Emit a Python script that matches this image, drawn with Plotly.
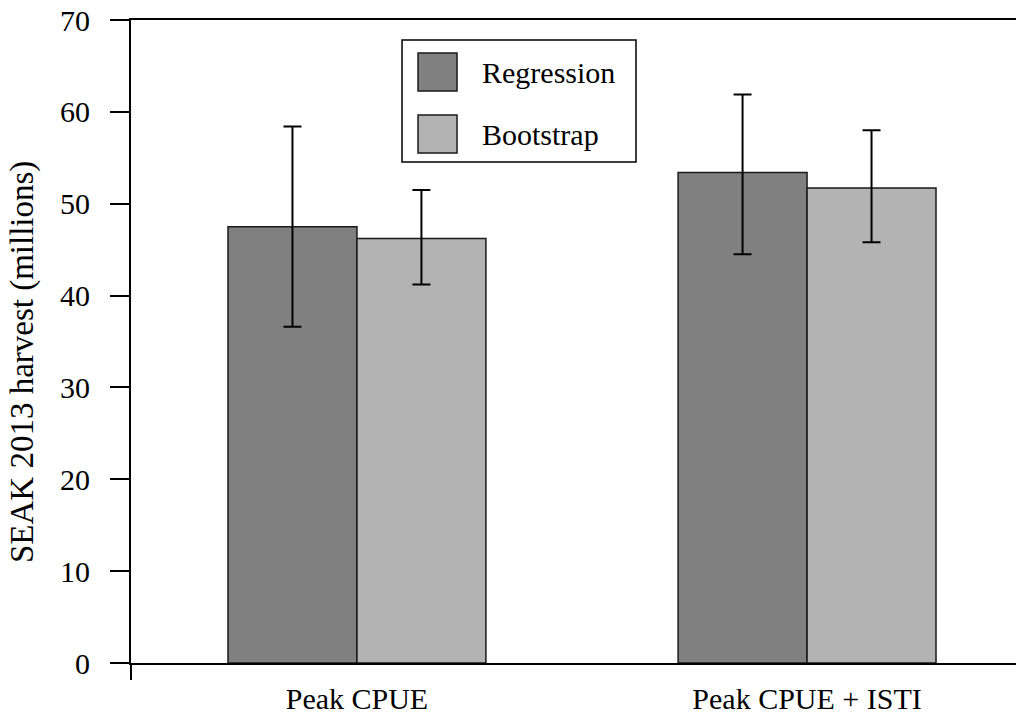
import plotly.graph_objects as go

categories = ["Peak CPUE", "Peak CPUE + ISTI"]
regression = [47.5, 53.4]
regression_lo = [36.6, 44.5]
regression_hi = [58.4, 61.9]
bootstrap = [46.2, 51.7]
bootstrap_lo = [41.2, 45.8]
bootstrap_hi = [51.5, 58.0]
y_ticks = [0, 10, 20, 30, 40, 50, 60, 70]
y_title = "SEAK 2013 harvest (millions)"

FONT = "Times New Roman, Liberation Serif, Times, serif"
FS = 30

def err(vals, lo, hi):
    return dict(type="data", symmetric=False,
                array=[h - v for v, h in zip(vals, hi)],
                arrayminus=[v - l for v, l in zip(vals, lo)],
                color="black", thickness=2, width=9)

fig = go.Figure()
fig.add_trace(go.Bar(x=categories, y=regression, name="Regression",
                     marker=dict(color="#808080", line=dict(color="#1a1a1a", width=1.5)),
                     error_y=err(regression, regression_lo, regression_hi),
                     showlegend=False))
fig.add_trace(go.Bar(x=categories, y=bootstrap, name="Bootstrap",
                     marker=dict(color="#b3b3b3", line=dict(color="#1a1a1a", width=1.5)),
                     error_y=err(bootstrap, bootstrap_lo, bootstrap_hi),
                     showlegend=False))

shapes = []
# y-axis extension below zero
shapes.append(dict(type="line", xref="paper", yref="paper", x0=0, x1=0, y0=0, y1=-17/643,
                   line=dict(color="black", width=2)))
# custom legend
shapes.append(dict(type="rect", xref="paper", yref="paper", x0=0.3035, x1=0.5655,
                   y0=0.7792, y1=0.9689, line=dict(color="black", width=1.5), fillcolor="white"))
shapes.append(dict(type="rect", xref="paper", yref="paper", x0=0.3214, x1=0.3651,
                   y0=0.8896, y1=0.9487, line=dict(color="#1a1a1a", width=1.5), fillcolor="#808080"))
shapes.append(dict(type="rect", xref="paper", yref="paper", x0=0.3214, x1=0.3651,
                   y0=0.7932, y1=0.8523, line=dict(color="#1a1a1a", width=1.5), fillcolor="#b3b3b3"))

annotations = [
    dict(text="Regression", xref="paper", yref="paper", x=0.391, y=0.919,
         xanchor="left", yanchor="middle", showarrow=False, font=dict(family=FONT, size=FS, color="black")),
    dict(text="Bootstrap", xref="paper", yref="paper", x=0.391, y=0.8227,
         xanchor="left", yanchor="middle", showarrow=False, font=dict(family=FONT, size=FS, color="black")),
    dict(text=y_title, xref="paper", yref="paper", x=-0.1221, y=0.468, textangle=-90,
         xanchor="center", yanchor="middle", showarrow=False, font=dict(family=FONT, size=33, color="black")),
]

fig.update_layout(
    width=1016, height=718,
    margin=dict(l=123, r=0, t=12, b=63, autoexpand=False),
    paper_bgcolor="white", plot_bgcolor="white",
    barmode="group", bargap=0.427, bargroupgap=0,
    font=dict(family=FONT, size=FS, color="black"),
    shapes=shapes, annotations=annotations,
    xaxis=dict(range=[-0.502, 1.482], showline=True, linecolor="black", linewidth=2,
               mirror=True, ticks="", showgrid=False, zeroline=False, automargin=False,
               tickfont=dict(family=FONT, size=FS, color="black"), ticklabelstandoff=8),
    yaxis=dict(range=[0, 70], tickvals=y_ticks, showline=True, linecolor="black", linewidth=2,
               ticks="outside", ticklen=19, tickwidth=2, tickcolor="black",
               showgrid=False, zeroline=False, ticklabelstandoff=14, automargin=False,
               ticklabeloverflow="allow",
               tickfont=dict(family=FONT, size=FS, color="black")),
)

fig.write_html("out.html")
